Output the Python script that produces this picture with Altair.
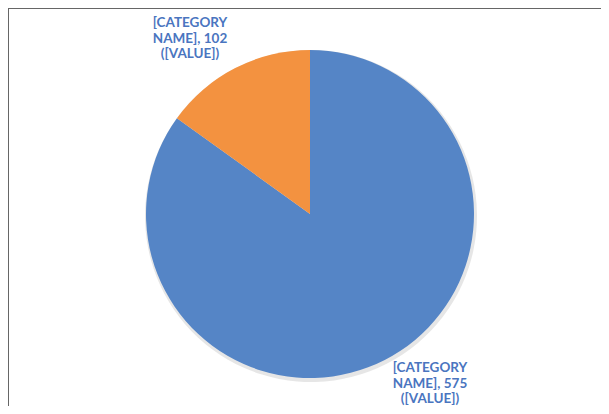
import altair as alt
import pandas as pd

categories = ["A", "B"]
values = [575, 102]
colors = ["#5585C6", "#F39240"]
label_lines = ["[CATEGORY\nNAME], 575\n([VALUE])", "[CATEGORY\nNAME], 102\n([VALUE])"]

df = pd.DataFrame({"cat": categories, "value": values, "order": [0, 1], "label": label_lines})

W, H = 593, 398
cx, cy, R = 302, 206, 164

shadow = alt.Chart(df).mark_arc(radius=R + 2, color="#c8c8c8", opacity=0.45, stroke=None).encode(
    theta=alt.Theta("value:Q", stack=True),
    order=alt.Order("order:Q"),
    x=alt.value(cx + 1),
    y=alt.value(cy + 2),
)

pie = alt.Chart(df).mark_arc(radius=R, stroke=None).encode(
    theta=alt.Theta("value:Q", stack=True),
    order=alt.Order("order:Q"),
    color=alt.Color("cat:N", scale=alt.Scale(domain=categories, range=colors), legend=None),
    x=alt.value(cx),
    y=alt.value(cy),
)

text_style = dict(font="Lato", fontSize=13.5, fontWeight="bold", color="#4A75BF",
                  lineBreak="\n", align="center", baseline="top", lineHeight=15.5)

lab_orange = alt.Chart(df[df.cat == "B"]).mark_text(**text_style).encode(
    text="label:N", x=alt.value(182), y=alt.value(8))
lab_blue = alt.Chart(df[df.cat == "A"]).mark_text(**text_style).encode(
    text="label:N", x=alt.value(422), y=alt.value(353))

border_top = alt.Chart(df.head(1)).mark_rule(color="#333333", strokeWidth=1.5).encode(
    x=alt.value(0), x2=alt.value(W + 8), y=alt.value(0))
border_left = alt.Chart(df.head(1)).mark_rule(color="#666666", strokeWidth=2).encode(
    x=alt.value(0), y=alt.value(0), y2=alt.value(H + 8))
border_right = alt.Chart(df.head(1)).mark_rule(color="#e2e2e2", strokeWidth=1).encode(
    x=alt.value(600), y=alt.value(0), y2=alt.value(H + 8))

chart = alt.layer(shadow, pie, lab_orange, lab_blue, border_top, border_left, border_right).properties(
    width=W, height=H, padding=0, autosize=alt.AutoSizeParams(type="none")
).configure_view(stroke=None)

chart.save("out.html", embed_options={"renderer": "svg", "actions": False})
